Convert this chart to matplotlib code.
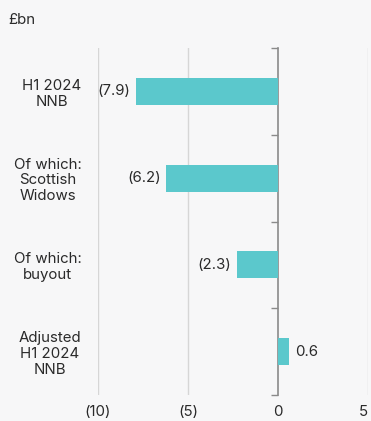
import matplotlib
matplotlib.use("Agg")
import matplotlib.pyplot as plt
import numpy as np

categories = ["H1 2024\nNNB", "Of which:\nScottish\nWidows", "Of which:\nbuyout", "Adjusted\nH1 2024\nNNB"]
values = [-7.9, -6.2, -2.3, 0.6]
value_labels = ["(7.9)", "(6.2)", "(2.3)", "0.6"]
xticks = [-10, -5, 0, 5]
xtick_labels = ["(10)", "(5)", "0", "5"]

plt.rcParams['font.family'] = ['Inter', 'DejaVu Sans']
bg = "#F7F7F8"
bar_color = "#5BC8CC"
text_color = "#2A2A2A"
axis_color = "#8A8A8A"

fig = plt.figure(figsize=(3.71, 4.21), dpi=100, facecolor=bg)
ax = fig.add_axes([98/371, 26/421, 270/371, 347/421], facecolor=bg)

y = np.arange(len(categories))
ax.barh(y, values, height=0.31, color=bar_color, zorder=3)
ax.set_ylim(len(categories) - 0.5, -0.5)
ax.set_xlim(-10, 5)

for yi, v, lab in zip(y, values, value_labels):
    if v < 0:
        ax.text(v - 0.3, yi, lab, ha="right", va="center", fontsize=10.8, color=text_color)
    else:
        ax.text(v + 0.35, yi, lab, ha="left", va="center", fontsize=10.8, color=text_color)

ax.set_xticks(xticks)
ax.set_xticklabels(xtick_labels, fontsize=10.8, color=text_color)
ax.tick_params(axis="x", length=0, pad=7)
ax.get_xticklabels()[-1].set_horizontalalignment("right")
ax.set_yticks(y)
ax.set_yticklabels(categories, fontsize=10.8, color=text_color, multialignment="center",
                   linespacing=1.15)
ax.tick_params(axis="y", length=0, pad=12)

for s in ax.spines.values():
    s.set_visible(False)

for xv in xticks:
    if xv != 0:
        ax.axvline(xv, color="#D6D6D6", lw=1.0, zorder=1)

sec = ax.secondary_yaxis(10/15)
sec.set_yticks(np.arange(len(categories) + 1) - 0.5)
sec.set_yticklabels([])
sec.tick_params(axis="y", length=5, width=1.0, color=axis_color, direction="in")
for s in sec.spines.values():
    s.set_color(axis_color)
    s.set_linewidth(1.2)

fig.text(8/371, 1 - 20/421, "£bn", ha="left", va="center", fontsize=10.8, color=text_color)

fig.savefig("out.png", dpi=100, facecolor=bg)
